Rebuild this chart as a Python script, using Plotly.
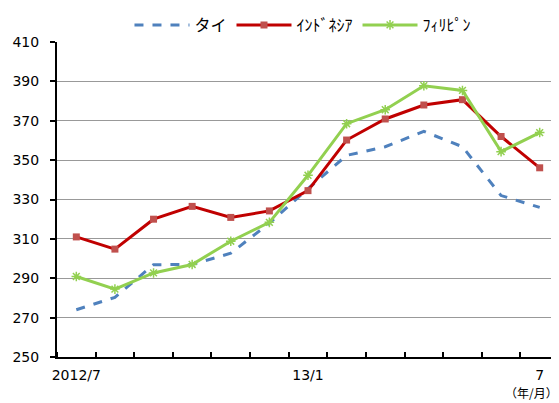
import plotly.graph_objects as go

months = ["2012/7", "8", "9", "10", "11", "12", "13/1", "2", "3", "4", "5", "6", "7"]
tick_labels = ["2012/7", "13/1", "7"]
tick_idx = [0, 6, 12]

thai = [274.0, 280.3, 296.9, 297.0, 302.7, 318.0, 335.5, 352.4, 356.8, 364.6, 356.8, 332.0, 326.0]
indonesia = [311.0, 304.8, 320.0, 326.5, 320.9, 324.2, 334.5, 360.2, 370.9, 378.0, 380.7, 362.0, 346.1]
philippines = [290.9, 284.5, 292.7, 297.0, 308.8, 318.4, 342.3, 368.5, 375.6, 387.8, 385.4, 354.3, 364.0]

names = ["タイ", "ｲﾝﾄﾞﾈｼｱ", "ﾌｨﾘﾋﾟﾝ"]
unit_label = "（年/月）"

x = list(range(len(months)))
FONT = "DejaVu Sans, Noto Sans CJK JP, sans-serif"
JFONT = "Noto Sans CJK JP, sans-serif"

fig = go.Figure()
fig.add_trace(go.Scatter(x=x, y=thai, name=names[0], mode="lines",
                         line=dict(color="#4F81BD", width=3, dash="dash")))
fig.add_trace(go.Scatter(x=x, y=indonesia, name=names[1], mode="lines+markers",
                         line=dict(color="#C00000", width=3),
                         marker=dict(symbol="square", size=7, color="#C0504D")))
fig.add_trace(go.Scatter(x=x, y=philippines, name=names[2], mode="lines+markers",
                         line=dict(color="#92D050", width=3),
                         marker=dict(symbol="asterisk-open", size=8,
                                     line=dict(color="#9BBB59", width=1.5))))

# the page body adds an 8px margin; the figure is sized to fill the rest
fig.update_layout(
    width=551, height=395,
    margin=dict(l=49, r=0, t=27, b=46),
    paper_bgcolor="white", plot_bgcolor="white",
    font=dict(family=FONT, size=14, color="black"),
    showlegend=True,
    legend=dict(orientation="h", x=0.49, xanchor="center", y=1.055, yanchor="middle",
                font=dict(family=JFONT, size=16),
                bgcolor="rgba(0,0,0,0)", itemwidth=55, tracegroupgap=0),
    xaxis=dict(range=[-0.5, 12.5], showgrid=False, zeroline=False,
               showline=True, linecolor="black", linewidth=2,
               tickmode="array", tickvals=tick_idx, ticktext=tick_labels,
               ticks="", ticklabelstandoff=4,
               minor=dict(tickmode="linear", tick0=-0.5, dtick=1, ticks="inside",
                          ticklen=5, tickcolor="black", tickwidth=1.5, showgrid=False)),
    yaxis=dict(range=[250, 410], dtick=20, tick0=250, showgrid=True,
               gridcolor="#999999", gridwidth=1, zeroline=False,
               showline=True, linecolor="black", linewidth=2,
               ticks="outside", ticklen=5, tickcolor="black", tickwidth=1.5,
               ticklabelstandoff=8),
)

fig.add_annotation(text=unit_label, xref="paper", yref="paper",
                   x=1.0, y=-(395 - 348.7) / 322,
                   xanchor="right", yanchor="bottom", showarrow=False,
                   borderpad=0,
                   font=dict(family=JFONT, size=12))

fig.write_html("out.html")
